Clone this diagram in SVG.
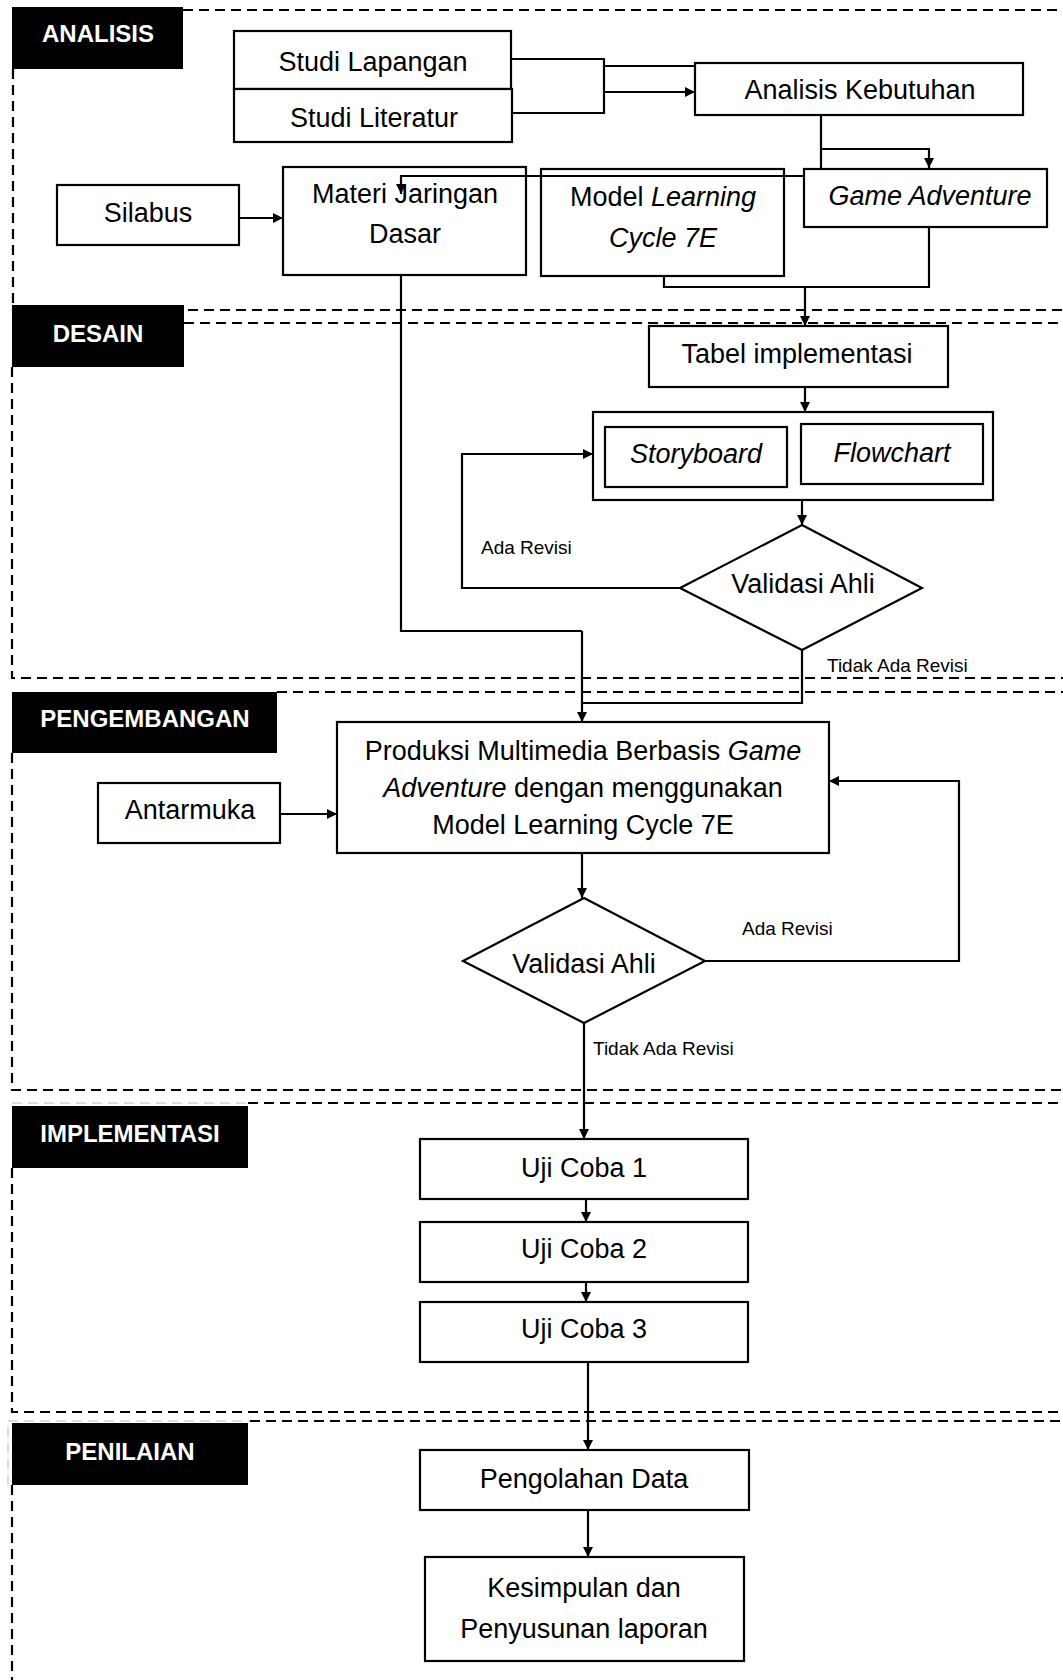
<svg xmlns="http://www.w3.org/2000/svg" width="1063" height="1680" viewBox="0 0 1063 1680">
<defs>
<marker id="arr" markerUnits="userSpaceOnUse" markerWidth="10" markerHeight="10" refX="10" refY="5" orient="auto">
<path d="M0,0 L10,5 L0,10 z" fill="#000"/>
</marker>
<style>
.bg{fill:#fff}
.box{fill:#fff;stroke:#000;stroke-width:2.2}
.lbl{fill:#000}
.lt{font-family:"Liberation Sans",Arial,sans-serif;font-weight:bold;font-size:24px;fill:#fff;text-anchor:middle}
.t{font-family:"Liberation Sans",Arial,sans-serif;font-size:27px;fill:#000;text-anchor:middle}
.it{font-style:italic}
.s{font-family:"Liberation Sans",Arial,sans-serif;font-size:19px;fill:#000}
.dash{fill:none;stroke:#000;stroke-width:2.2;stroke-dasharray:10 6}
.gdash{fill:none;stroke:#bbb;stroke-width:1;stroke-dasharray:10 6}
.c{fill:none;stroke:#000;stroke-width:2.2}
.ca{fill:none;stroke:#000;stroke-width:2.2;marker-end:url(#arr)}
</style>
</defs>
<rect class="bg" x="0" y="0" width="1063" height="1680"/>

<g id="sections">
<path class="dash" d="M183,10 H1063 M13,69 V310 H1063"/>
<path class="dash" d="M184,323 H1063 M12,367 V678 H1063"/>
<path class="dash" d="M277,692 H1063 M12,753 V1090 H1063"/>
<path class="gdash" d="M12,1103 H248"/>
<path class="dash" d="M248,1103 H1063 M12,1168 V1412 H1063"/>
<path class="gdash" d="M8,1485 V1421 H250"/>
<path class="dash" d="M250,1421 H1063 M12,1485 V1680"/>
</g>

<g id="label-analisis"><rect class="lbl" x="12" y="7" width="171" height="62"/><text class="lt" x="98" y="42">ANALISIS</text></g>
<g id="label-desain"><rect class="lbl" x="12" y="305" width="172" height="62"/><text class="lt" x="98" y="342">DESAIN</text></g>
<g id="label-pengembangan"><rect class="lbl" x="12" y="692" width="265" height="61"/><text class="lt" x="145" y="727">PENGEMBANGAN</text></g>
<g id="label-implementasi"><rect class="lbl" x="12" y="1106" width="236" height="62"/><text class="lt" x="130" y="1142">IMPLEMENTASI</text></g>
<g id="label-penilaian"><rect class="lbl" x="12" y="1423" width="236" height="62"/><text class="lt" x="130" y="1460">PENILAIAN</text></g>

<g id="connectors">
<path class="c" d="M511,59 H604 V113 H512"/>
<path class="c" d="M604,66 H695"/>
<path class="ca" d="M604,92 H695"/>
<path class="ca" d="M239,218 H283"/>
<path class="c" d="M821,95 V176"/>
<path class="ca" d="M821,149 H929 V168"/>
<path class="ca" d="M821,176 H401 V194"/>
<path class="c" d="M664,276 V287 H929 V227"/>
<path class="ca" d="M805,287 V326"/>
<path class="ca" d="M805,387 V412"/>
<path class="ca" d="M802,500 V525"/>
<path class="ca" d="M680,588 H462 V454 H593"/>
<path class="c" d="M401,275 V631 H582"/>
<path class="c" d="M802,650 V703 H582"/>
<path class="ca" d="M582,631 V722"/>
<path class="ca" d="M280,814 H337"/>
<path class="ca" d="M582,853 V898"/>
<path class="ca" d="M705,961 H959 V781 H829"/>
<path class="ca" d="M584,1023 V1139"/>
<path class="ca" d="M586,1199 V1222"/>
<path class="ca" d="M586,1282 V1302"/>
<path class="ca" d="M588,1362 V1450"/>
<path class="ca" d="M588,1510 V1557"/>
<text class="s" x="481" y="554">Ada Revisi</text>
<text class="s" x="827" y="672">Tidak Ada Revisi</text>
<text class="s" x="742" y="935">Ada Revisi</text>
<text class="s" x="593" y="1055">Tidak Ada Revisi</text>
</g>

<g id="studi-lapangan"><rect class="box" x="234" y="31" width="277" height="58"/><text class="t" x="373" y="71">Studi Lapangan</text></g>
<g id="studi-literatur"><rect class="box" x="234" y="89" width="278" height="53"/><text class="t" x="374" y="127">Studi Literatur</text></g>
<g id="analisis-kebutuhan"><rect class="box" x="695" y="63" width="328" height="52"/><text class="t" x="860" y="99">Analisis Kebutuhan</text></g>
<g id="silabus"><rect class="box" x="57" y="185" width="182" height="60"/><text class="t" x="148" y="222">Silabus</text></g>
<g id="materi"><rect class="box" x="283" y="167" width="243" height="108" style="fill:none"/><text class="t" x="405" y="203">Materi Jaringan</text><text class="t" x="405" y="243">Dasar</text></g>
<g id="model-lc7e"><rect class="box" x="541" y="169" width="243" height="107" style="fill:none"/><text class="t" x="663" y="206">Model <tspan class="it">Learning</tspan></text><text class="t it" x="663" y="247">Cycle 7E</text></g>
<g id="game-adventure"><rect class="box" x="804" y="169" width="243" height="58"/><text class="t it" x="930" y="205">Game Adventure</text></g>

<g id="tabel-implementasi"><rect class="box" x="649" y="326" width="299" height="61"/><text class="t" x="797" y="363">Tabel implementasi</text></g>
<g id="storyboard-flowchart"><rect class="box" x="593" y="412" width="400" height="88"/>
<rect class="box" x="605" y="427" width="182" height="60"/><text class="t it" x="696" y="463">Storyboard</text>
<rect class="box" x="801" y="424" width="182" height="60"/><text class="t it" x="892" y="462">Flowchart</text></g>
<g id="validasi-1"><path class="box" d="M802,525 L922,588 L802,650 L680,588 Z"/><text class="t" x="803" y="593">Validasi Ahli</text></g>

<g id="antarmuka"><rect class="box" x="98" y="783" width="182" height="60"/><text class="t" x="190" y="819">Antarmuka</text></g>
<g id="produksi"><rect class="box" x="337" y="722" width="492" height="131"/>
<text class="t" x="583" y="760">Produksi Multimedia Berbasis <tspan class="it">Game</tspan></text>
<text class="t" x="583" y="797"><tspan class="it">Adventure</tspan> dengan menggunakan</text>
<text class="t" x="583" y="834">Model Learning Cycle 7E</text></g>
<g id="validasi-2"><path class="box" d="M584,898 L705,961 L584,1023 L463,961 Z"/><text class="t" x="584" y="973">Validasi Ahli</text></g>

<g id="uji-coba-1"><rect class="box" x="420" y="1139" width="328" height="60"/><text class="t" x="584" y="1177">Uji Coba 1</text></g>
<g id="uji-coba-2"><rect class="box" x="420" y="1222" width="328" height="60"/><text class="t" x="584" y="1258">Uji Coba 2</text></g>
<g id="uji-coba-3"><rect class="box" x="420" y="1302" width="328" height="60"/><text class="t" x="584" y="1338">Uji Coba 3</text></g>

<g id="pengolahan-data"><rect class="box" x="420" y="1450" width="329" height="60"/><text class="t" x="584" y="1488">Pengolahan Data</text></g>
<g id="kesimpulan"><rect class="box" x="425" y="1557" width="319" height="104"/><text class="t" x="584" y="1597">Kesimpulan dan</text><text class="t" x="584" y="1638">Penyusunan laporan</text></g>
</svg>
